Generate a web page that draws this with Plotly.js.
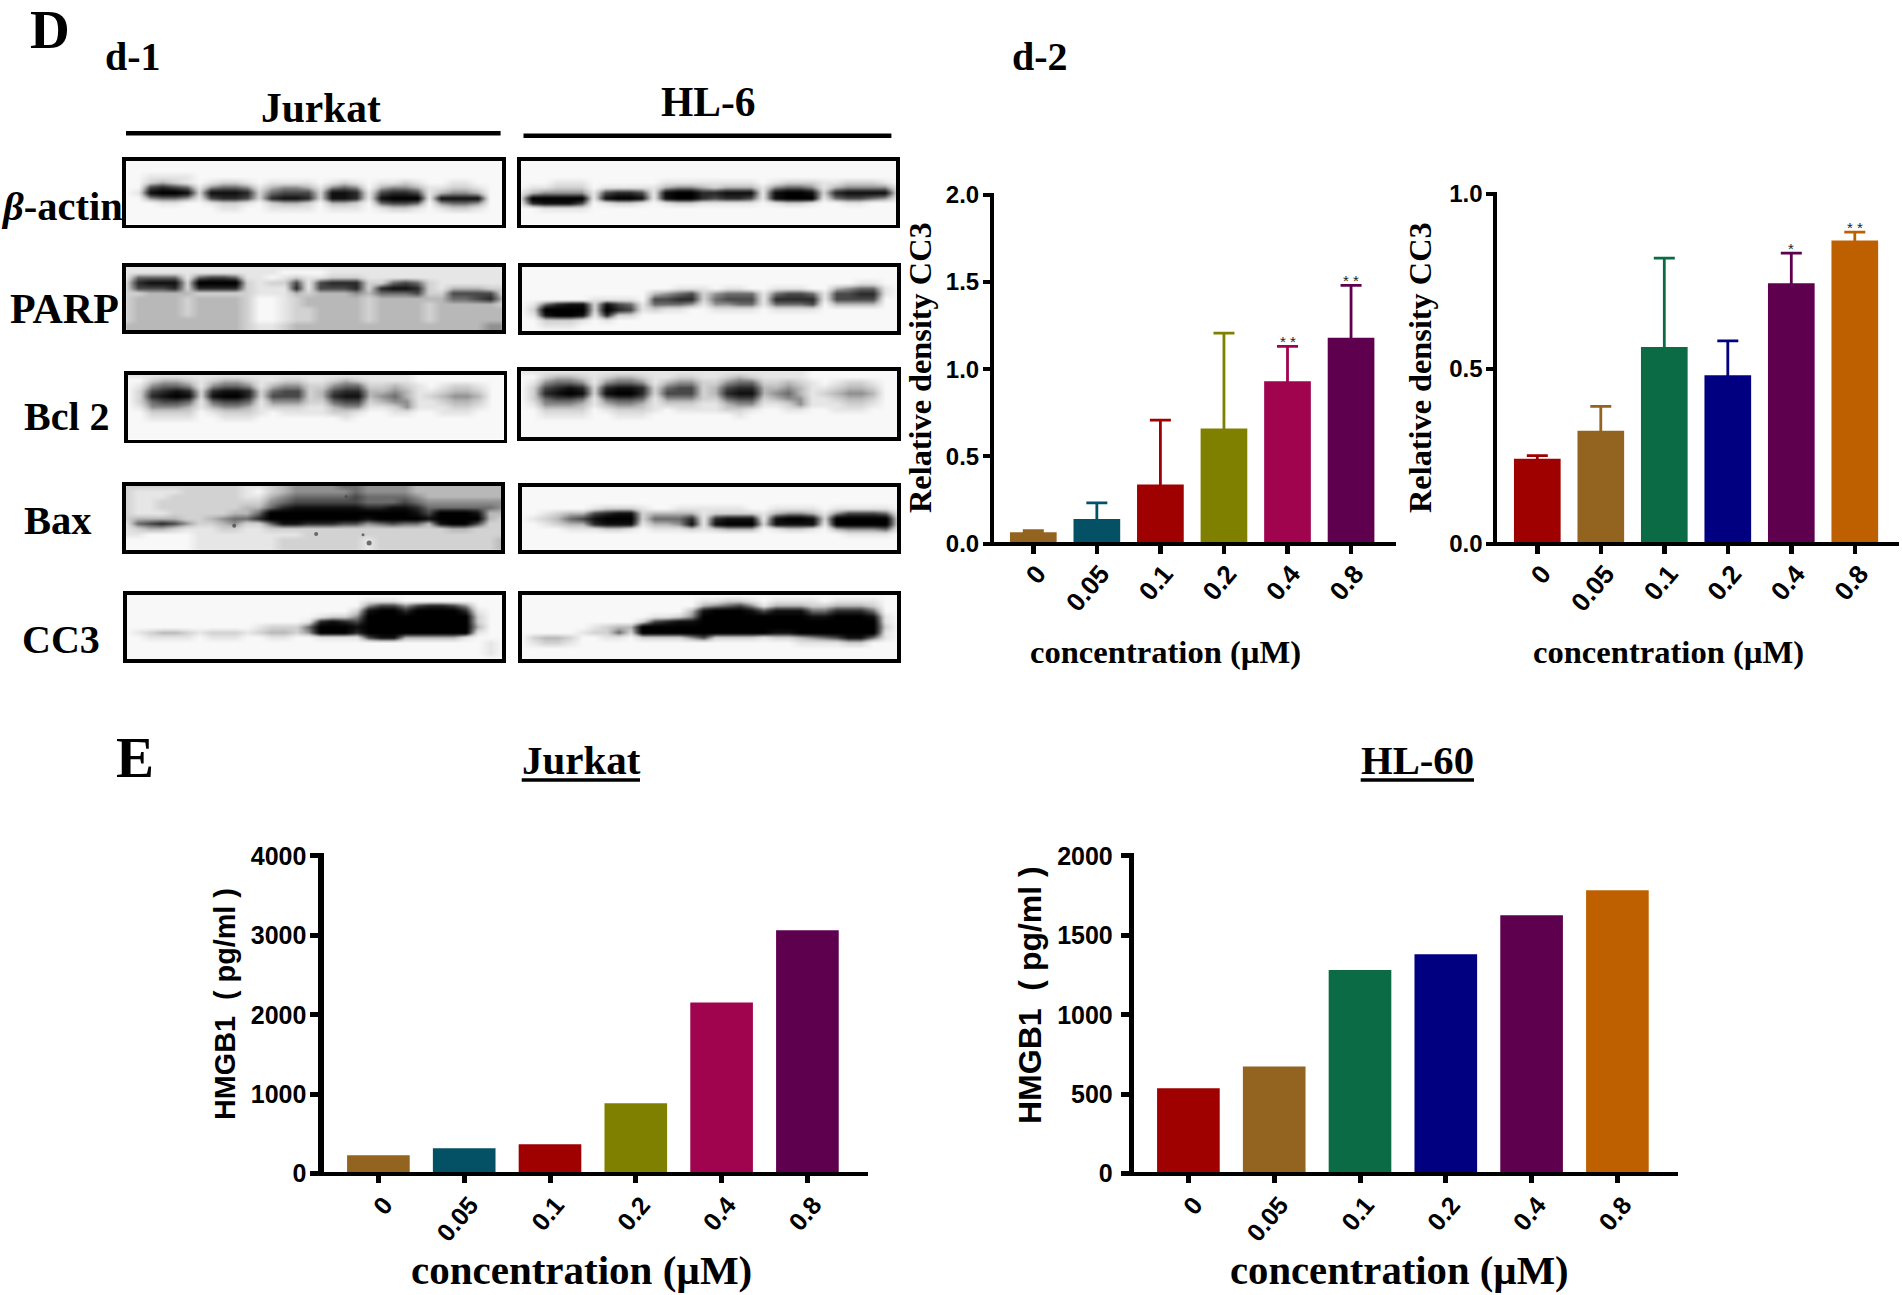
<!DOCTYPE html>
<html><head><meta charset="utf-8">
<script src="https://cdn.plot.ly/plotly-3.0.1.min.js"></script>
<style>html,body{margin:0;padding:0;background:#fff}#g{width:1902px;height:1295px}</style>
</head><body><div id="g"></div>
<script>
const W=1902,H=1295;
// ---------- chart data ----------
const concLabels=['0','0.05','0.1','0.2','0.4','0.8'];
const d2aValues=[0.065,0.14,0.338,0.66,0.93,1.18];
const d2aUpper=[0.073,0.233,0.707,1.206,1.13,1.48];
const d2aStars=['','','','','* *','* *'];
const d2bValues=[0.242,0.322,0.562,0.481,0.744,0.866];
const d2bUpper=[0.251,0.392,0.816,0.579,0.83,0.89];
const d2bStars=['','','','','*','* *'];
const eJurkatValues=[231,320,370,888,2155,3062];
const eHL60Values=[537,674,1281,1380,1626,1784];
const paletteA=['#936320','#045064','#9f0000','#808000','#a0044f','#5f004f'];
const paletteB=['#9f0000','#936320','#0a6b45','#000080','#5f004f','#bf6000'];
// ---------- western blot darkness, read by eye (0 paper .. 9 black) ----------
const o='00000000 00000000 00000000 00000000';
const blotActinJ=[o,o,o,
'00 1111 0 0000 0 0000 0 000 0 0000 0 0000 00',
'00 2321 0 1221 0 1111 0 121 0 1121 0 0110 00',
'00 6765 1 4554 1 3443 1 454 0 3443 1 1221 00',
'01 8998 2 8887 2 5666 2 887 1 6776 1 3443 00',
'00 4554 1 6776 2 7887 2 887 1 8999 1 8888 00',
'00 0110 0 1221 0 2332 0 332 0 5665 0 4554 00',
'00 0000 0 0110 0 1111 0 111 0 1221 0 1221 00',o,o,o];
const blotActinH=[o,o,o,o,
'00011100 00001111 11110122 21122210',
'01122201 11113443 23331455 41344441',
'13444416 77618997 78881899 82788882',
'29999918 99818997 67761899 91566541',
'17888601 22101221 11110122 10011000',
'00111100 00000000 00000000 00000000',o,o,o];
const blotParpJ=[
'11111111 11111111 11111111 11111111',
'11111111 11111000 01111111 11111111',
'15555156 65110121 12221111 11111111',
'27888299 99212261 67772256 52111111',
'26667277 77211171 66672788 72133322',
'22333322 22211132 33343555 62266662',
'23333233 33200123 33332333 33355673',
'23333233 33200123 33332333 32333332',
'23333233 33200122 33332333 32333333',
'23333233 33200122 33332333 32333333',
'23333333 33200122 33332333 32333333',
'33333333 33211233 33333333 33333344',
'33333333 33211233 33333333 33333344'];
const blotParpH=[o,o,o,
'00000000 00000000 00000000 00001100',
'00000000 00000111 01100111 00345510',
'00000000 00034562 45551566 51667710',
'00000011 11066772 56661777 71666600',
'01578828 65155541 44551555 60333300',
'02999929 76121100 11110111 10000000',
'01899817 22000000 00000000 00000000',
'00222101 00000000 00000000 00000000',
'00111000 00000000 00000000 00000000',o];
const blotBcl2=[
'11111111 11111111 11111111 00000000',
'00233212 33211221 12321111 00000000',
'01455414 55413442 24552232 10122100',
'02678727 88725662 36773343 11233200',
'02789828 99726662 37883453 12344300',
'02566515 66514442 25662344 11233200',
'01444313 44312221 13441124 11122100',
'00222201 22210111 12210011 00111000',
'00111100 11100000 00100000 00000000',
o,o,o,o];
const blotBaxJ=[
'22222222 22112344 44554444 33333333',
'21111222 22102344 44454444 33333333',
'21112222 22113455 55565555 43333333',
'21122222 22224566 66665556 54444444',
'21122222 22335788 88887788 75555554',
'21112222 23359999 99999999 86999833',
'23333223 45579999 99998999 98999932',
'15676422 34225887 77664565 53899622',
'12332111 22112222 22222222 22233222',
'11000011 11111112 22222222 22222222',
'00000011 11111222 22221222 22222223',
'00000011 11111222 22221222 22222223',
'00000011 11111222 22221222 22222223'];
const baxSpotCol=[8.97,15.73,19.6,20.1,18.2];
const baxSpotRow=[7.44,9,9.1,10.67,2];
const baxSpotSize=[4,4,3,5,3];
const blotBaxH=[o,o,o,o,
'00000012 22100111 11100111 10111110',
'00123367 88233331 22221344 31466651',
'01235689 99255571 78881899 82999992',
'00123378 88133481 89992888 81999992',
'00001112 21011121 23330122 10344451',
'00000000 00000000 00000000 00011110',o,o,o];
const blotCC3J=[o,
'00000000 00000000 00001110 00000000',
'00000000 00000000 00004664 67764000',
'00000000 00000000 00028997 99997100',
'00000000 00000000 12249999 99999200',
'00000000 00000001 78769999 99999200',
'00000000 00012225 99989999 99999300',
'01233212 22123324 99979999 99999100',
'00111101 11001100 11116883 33331000',
'00000000 00000000 00000000 00000010',
'00000000 00000000 00000000 00000010',
'00000000 00000000 00000000 00000010',o];
const blotCC3H=[o,
'00000000 00000001 12210111 10111100',
'00000000 00000003 45641333 22333200',
'00000000 00000038 99986888 55777500',
'00000000 00011249 99999999 88999810',
'00000000 00267889 99999999 99999910',
'00000012 33999999 99999999 99999920',
'00000122 52999999 99999889 99999910',
'02332001 10222246 22221223 45688510',
'01221000 00000000 00000001 11122000',o,o,o];
const blotGrays=['#f8f8f8','#e6e6e6','#d2d2d2','#b8b8b8','#909090','#6c6c6c','#484848','#2a2a2a','#101010','#000000'];

// ---------- helpers ----------
const SERIF='"Liberation Serif","Times New Roman",serif', SANS='"Liberation Sans",Arial,sans-serif';
const px=x=>x/W, py=y=>1-y/H;
const traces=[],annotations=[],shapes=[],layout={};
let axisId=0;
function nextAxes(dx0,dx1,dy0,dy1){
  axisId++;const s=axisId===1?'':String(axisId);
  return {xa:'x'+s,ya:'y'+s,xk:'xaxis'+s,yk:'yaxis'+s,dx:[px(dx0),px(dx1)],dy:[py(dy1),py(dy0)]};
}
function addBlot(rows,x0,y0,x1,y1){
  const a=nextAxes(x0+3.8,x1-3.8,y0+3.8,y1-3.8);
  const z=rows.map(r=>r.replace(/ /g,'').split('').map(Number));
  traces.push({type:'heatmap',z:z,xaxis:a.xa,yaxis:a.ya,zmin:0,zmax:9,zsmooth:'best',showscale:false,hoverinfo:'skip',
    colorscale:blotGrays.map((c,i)=>[i/9,c])});
  const frame={showline:true,mirror:true,linewidth:3.8,linecolor:'#000',showgrid:false,zeroline:false,ticks:'',showticklabels:false,fixedrange:true};
  layout[a.xk]=Object.assign({},frame,{domain:a.dx,anchor:a.ya,range:[0,31]});
  layout[a.yk]=Object.assign({},frame,{domain:a.dy,anchor:a.xa,range:[12,0]});
  return a;
}
function addBars(vals,upper,stars,pal,cfg){
  const ymax=cfg.yt[cfg.yt.length-1];
  const s=(cfg.zero-cfg.top)/ymax;
  const a=nextAxes(cfg.left+cfg.ylw/2,cfg.right,cfg.top-cfg.ytw/2,cfg.zero+cfg.xlw/2);
  const toIdx=p=>(p-cfg.c0)/cfg.sp;
  vals.forEach((v,i)=>{
    const t={type:'bar',x:[i],y:[v],width:[cfg.bw],xaxis:a.xa,yaxis:a.ya,marker:{color:pal[i]},hoverinfo:'skip',showlegend:false};
    if(upper) t.error_y={type:'data',symmetric:true,array:[upper[i]-v],color:pal[i],thickness:2.8,width:10.5};
    traces.push(t);
    if(stars&&stars[i]) annotations.push({xref:a.xa,yref:a.ya,x:i,y:upper[i],text:stars[i],showarrow:false,xanchor:'center',yanchor:'bottom',yshift:-6,
      font:{family:SANS,size:15,color:'#222'}});
  });
  layout[a.xk]={domain:a.dx,anchor:'free',position:py(cfg.zero),range:[toIdx(cfg.left+cfg.ylw/2),toIdx(cfg.right)],tickmode:'array',tickvals:[0,1,2,3,4,5],ticktext:concLabels,
    tickangle:-50,ticks:'outside',ticklen:cfg.xtl,tickwidth:cfg.xtw,tickcolor:'#000',showline:true,linewidth:cfg.xlw,linecolor:'#000',showgrid:false,zeroline:false,
    ticklabelstandoff:cfg.xso,ticklabelshift:cfg.xsh,tickfont:{family:SANS,size:cfg.xfs,color:'#000',weight:700},fixedrange:true};
  layout[a.yk]={domain:a.dy,anchor:a.xa,range:[-(cfg.xlw/2)/s,ymax+(cfg.ytw/2)/s],tickmode:'array',tickvals:cfg.yt,ticktext:cfg.yl,ticks:'outside',ticklen:cfg.ytl,tickwidth:cfg.ytw,tickcolor:'#000',
    showline:true,linewidth:cfg.ylw,linecolor:'#000',showgrid:false,zeroline:false,ticklabelstandoff:cfg.yso,
    tickfont:{family:SANS,size:cfg.yfs,color:'#000',weight:700},fixedrange:true};
}
function label(text,x,y,size,fam,angle){
  annotations.push({xref:'paper',yref:'paper',x:px(x),y:py(y),text:text,showarrow:false,xanchor:'center',yanchor:'middle',textangle:angle||0,
    font:{family:fam||SERIF,size:size,color:'#000',weight:700}});
}
function rule(x0,x1,y,w){shapes.push({type:'line',xref:'paper',yref:'paper',x0:px(x0),x1:px(x1),y0:py(y),y1:py(y),line:{color:'#000',width:w}});}

// ---------- blots ----------
addBlot(blotActinJ,122.3,156.7,505.7,228.3);
addBlot(blotActinH,516.7,156.7,900,228.3);
addBlot(blotParpJ,122.3,262.7,505.7,334);
addBlot(blotParpH,517.7,262.7,901,335);
addBlot(blotBcl2,124,370.7,507.3,443.3);
addBlot(blotBcl2,517.3,367.3,901,440.7);
const baxAxes=addBlot(blotBaxJ,121.7,482,505,554);
traces.push({type:'scatter',mode:'markers',x:baxSpotCol,y:baxSpotRow,xaxis:baxAxes.xa,yaxis:baxAxes.ya,marker:{color:'#444',size:baxSpotSize,opacity:0.75,line:{width:0}},hoverinfo:'skip',showlegend:false});
addBlot(blotBaxH,517.7,482.7,901,554);
addBlot(blotCC3J,122.7,591,506,662.7);
addBlot(blotCC3H,517.7,591,901,662.7);

// ---------- bar charts ----------
const cfgD={xtl:8,xtw:4.4,xlw:4.5,ylw:4,ytw:4,ytl:7,xso:-6,xsh:4,xfs:26,yfs:24,yso:-1,bw:0.735};
const cfgE={xtl:7,xtw:5,xlw:4.7,ylw:5.5,ytw:5,ytl:8,xso:-3,xsh:6,xfs:25,yfs:25,yso:-1,bw:0.73};
addBars(d2aValues,d2aUpper,d2aStars,paletteA,Object.assign({},cfgD,{left:992,right:1396,top:194.7,zero:543.5,c0:1033.3,sp:63.55,
  yt:[0,0.5,1,1.5,2],yl:['0.0','0.5','1.0','1.5','2.0']}));
addBars(d2bValues,d2bUpper,d2bStars,paletteB,Object.assign({},cfgD,{left:1495.3,right:1899,top:193.7,zero:543.5,c0:1537.3,sp:63.5,xsh:5,
  yt:[0,0.5,1],yl:['0.0','0.5','1.0']}));
addBars(eJurkatValues,null,null,paletteA,Object.assign({},cfgE,{left:321.2,right:867.7,top:855.8,zero:1173.7,c0:378.4,sp:85.8,
  yt:[0,1000,2000,3000,4000],yl:['0','1000','2000','3000','4000']}));
addBars(eHL60Values,null,null,paletteB,Object.assign({},cfgE,{left:1131.5,right:1677.7,top:855.8,zero:1173.7,c0:1188.4,sp:85.8,yso:3,
  yt:[0,500,1000,1500,2000],yl:['0','500','1000','1500','2000']}));

// ---------- text ----------
label('D',50,30,55);
label('d-1',133,57,40);
label('d-2',1040,57,40);
label('Jurkat',321,108,41.5);
label('HL-6',708,102,41.5);
rule(126,500.6,133.3,4.5);
rule(523.5,891.4,135.7,4.5);
label('<i>β</i>-actin',62,206,40.5);
label('PARP',64,309,42);
label('Bcl 2',66.6,416,40);
label('Bax',58,520,40.5);
label('CC3',61,639,40);
label('Relative density CC3',920,368,32.3,SERIF,-90);
label('Relative density CC3',1420,368,32.3,SERIF,-90);
label('concentration (µM)',1165,652,32.6);
label('concentration (µM)',1668,652,32.6);
label('E',135,757,57);
label('Jurkat',581,760,41);
rule(521.7,640,780,3.5);
label('HL-60',1417,760,40.7);
rule(1360.7,1474,780,3.5);
label('HMGB1\u00a0\u00a0( pg/ml )',225,1004,28.8,SANS,-90);
label('HMGB1\u00a0\u00a0( pg/ml )',1030,995,32,SANS,-90);
label('concentration (µM)',581,1270,41);
label('concentration (µM)',1399,1270,40.7);

Object.assign(layout,{width:W,height:H,margin:{l:0,r:0,t:0,b:0},paper_bgcolor:'#fff',plot_bgcolor:'#fff',showlegend:false,barmode:'overlay',annotations:annotations,shapes:shapes});
Plotly.newPlot('g',traces,layout,{displayModeBar:false,staticPlot:true});
</script></body></html>
